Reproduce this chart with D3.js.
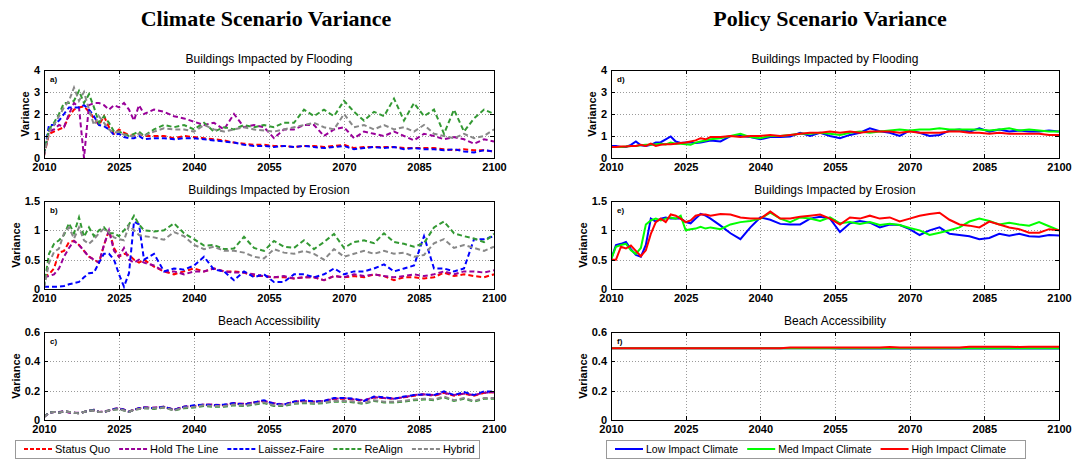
<!DOCTYPE html>
<html>
<head>
<meta charset="utf-8">
<script src="https://cdn.jsdelivr.net/npm/d3@7"></script>
<style>
  body { margin: 0; background: #fff; }
  svg { display: block; }
</style>
</head>
<body>
<div id="chart-area"></div>
<script>
// DATA (annual to 2030, every second year after)

const years = [2010,2011,2012,2013,2014,2015,2016,2017,2018,2019,2020,2021,2022,2023,2024,2025,2026,2027,2028,2029,2030,
  2032,2034,2036,2038,2040,2042,2044,2046,2048,2050,2052,2054,2056,2058,2060,2062,2064,2066,2068,2070,2072,2074,2076,2078,2080,2082,2084,2086,2088,2090,2092,2094,2096,2098,2100]

const xTicks = [2010,2025,2040,2055,2070,2085,2100]
const yTicksFlood = [0,1,2,3,4]
const yTicksErosion = [0,0.5,1,1.5]
const yTicksBeach = [0,0.2,0.4,0.6]

const climateNames = ["Status Quo","Hold The Line","Laissez-Faire","ReAlign","Hybrid"]
const policyNames = ["Low Impact Climate","Med Impact Climate","High Impact Climate"]
const panelTitles = ["Buildings Impacted by Flooding","Buildings Impacted by Erosion","Beach Accessibility"]
const columnTitles = ["Climate Scenario Variance","Policy Scenario Variance"]

// a) flooding, climate scenarios
const floodStatusQuo = [0.1,1.1,1.2,1.3,1.4,1.9,2.2,2.3,2.35,2.1,1.8,1.5,1.9,1.4,1.1,1.3,1.15,1.05,1.0,1.1,1.0,
  1.0,1.0,0.9,1.0,0.95,0.9,0.85,0.8,0.7,0.65,0.6,0.6,0.55,0.55,0.5,0.55,0.55,0.5,0.55,0.6,0.45,0.5,0.5,0.5,0.5,0.45,0.45,0.45,0.45,0.4,0.35,0.4,0.35,0.35,0.3]
const floodHoldLine = [0.2,1.2,1.3,1.5,1.4,2.0,2.5,2.3,0.0,2.4,2.5,2.5,2.4,2.2,2.4,2.3,2.5,2.2,1.7,2.4,2.0,
  2.2,2.1,1.9,1.8,1.65,1.5,1.6,1.3,2.0,1.4,1.5,1.4,0.9,1.3,1.3,1.5,1.5,1.0,1.3,1.4,0.9,1.2,1.1,1.0,1.2,1.0,0.8,1.1,1.0,0.85,0.95,0.85,0.65,0.85,0.75]
const floodLaissez = [0.15,1.5,1.5,1.7,2.0,2.3,2.3,2.3,2.4,2.2,1.9,1.5,1.45,1.3,1.05,1.1,0.95,0.9,0.9,1.0,0.85,
  0.9,0.9,0.85,0.9,0.9,0.85,0.8,0.75,0.7,0.6,0.55,0.55,0.5,0.55,0.5,0.55,0.5,0.45,0.5,0.55,0.4,0.45,0.5,0.45,0.5,0.4,0.45,0.4,0.4,0.35,0.4,0.3,0.25,0.35,0.3]
const floodReAlign = [0.2,1.3,1.6,2.0,2.5,2.5,2.6,3.05,2.5,2.9,2.3,1.6,1.9,1.6,1.2,1.2,1.1,1.0,1.1,1.2,1.0,
  1.3,1.5,1.4,1.5,1.3,1.6,1.2,1.4,1.3,1.5,1.4,1.5,1.4,1.6,1.6,2.2,1.9,2.2,1.9,2.6,2.1,1.7,2.1,1.9,2.7,1.7,2.5,1.9,2.2,1.1,2.2,1.2,1.8,2.2,2.0]
const floodHybrid = [0.1,1.2,1.5,1.9,2.3,2.6,3.2,2.6,3.0,2.2,1.5,1.9,1.6,1.3,1.15,1.2,1.05,1.0,1.0,1.1,1.0,
  1.2,1.35,1.3,1.3,1.2,1.5,1.3,1.2,1.3,1.4,1.3,1.25,1.2,1.3,1.4,1.5,1.6,1.4,1.3,2.0,1.4,1.5,1.3,1.5,1.3,1.4,1.2,1.5,1.1,1.0,0.9,1.1,0.9,1.0,1.3]

// b) erosion, climate scenarios
const erosionStatusQuo = [0.2,0.25,0.35,0.62,0.65,0.8,0.82,0.75,0.65,0.55,0.5,0.45,0.75,1.0,0.7,0.55,0.6,0.58,0.5,0.45,0.5,
  0.38,0.3,0.25,0.3,0.35,0.3,0.35,0.3,0.3,0.28,0.22,0.22,0.2,0.2,0.18,0.2,0.2,0.15,0.22,0.2,0.22,0.2,0.25,0.22,0.15,0.2,0.2,0.18,0.2,0.28,0.22,0.25,0.22,0.2,0.25]
const erosionHoldLine = [0.2,0.22,0.25,0.35,0.55,0.7,0.82,0.75,0.65,0.55,0.5,0.45,0.75,1.0,0.65,0.55,0.7,0.5,0.45,0.5,0.45,
  0.4,0.3,0.3,0.25,0.3,0.3,0.35,0.3,0.28,0.28,0.25,0.22,0.2,0.22,0.18,0.2,0.2,0.15,0.22,0.2,0.25,0.22,0.25,0.22,0.2,0.22,0.25,0.22,0.25,0.3,0.25,0.3,0.3,0.28,0.32]
const erosionLaissez = [0.04,0.04,0.04,0.04,0.05,0.08,0.1,0.12,0.2,0.27,0.28,0.45,0.6,0.6,0.5,0.25,0.04,0.27,1.15,1.1,0.5,
  0.6,0.3,0.35,0.33,0.4,0.55,0.33,0.3,0.15,0.3,0.2,0.25,0.12,0.12,0.25,0.25,0.2,0.25,0.35,0.25,0.3,0.3,0.35,0.42,0.3,0.35,0.4,0.9,0.35,0.35,0.3,0.35,0.85,0.85,0.9]
const erosionReAlign = [0.04,0.6,0.77,0.83,0.92,1.12,0.95,1.22,0.89,1.05,0.9,1.0,1.05,0.95,0.95,0.9,1.0,1.1,1.25,1.1,1.0,
  0.98,1.0,1.12,0.95,0.85,0.74,0.75,0.68,0.69,0.89,0.7,0.65,0.82,0.72,0.7,0.83,0.68,0.8,0.94,0.7,0.8,0.83,0.78,0.95,0.8,0.77,0.72,0.78,1.05,1.15,0.95,0.9,0.86,0.8,0.94]
const erosionHybrid = [0.02,0.44,0.63,0.69,0.95,1.05,0.86,1.05,0.83,0.77,0.85,0.95,1.03,0.97,0.88,0.85,0.83,1.08,1.0,0.92,0.9,
  0.88,0.84,0.97,0.9,0.75,0.68,0.72,0.65,0.65,0.62,0.55,0.52,0.68,0.62,0.6,0.65,0.6,0.5,0.68,0.55,0.6,0.65,0.6,0.65,0.6,0.62,0.55,0.58,0.78,0.85,0.7,0.75,0.7,0.65,0.72]

// c) beach accessibility, climate scenarios
const beachStatusQuo = [0.02,0.05,0.055,0.05,0.06,0.055,0.05,0.045,0.055,0.065,0.07,0.055,0.055,0.065,0.075,0.08,0.07,0.055,0.07,0.08,0.085,
  0.08,0.09,0.07,0.09,0.095,0.105,0.1,0.1,0.115,0.105,0.12,0.13,0.11,0.105,0.125,0.13,0.125,0.13,0.145,0.145,0.14,0.13,0.155,0.15,0.145,0.155,0.165,0.175,0.165,0.185,0.165,0.18,0.165,0.185,0.19]
const beachHoldLine = [0.02,0.05,0.055,0.055,0.06,0.05,0.05,0.05,0.055,0.065,0.065,0.055,0.06,0.065,0.075,0.08,0.07,0.06,0.07,0.08,0.085,
  0.085,0.09,0.07,0.09,0.095,0.105,0.105,0.1,0.115,0.11,0.12,0.13,0.115,0.105,0.125,0.13,0.125,0.13,0.145,0.15,0.14,0.135,0.155,0.15,0.145,0.155,0.17,0.175,0.17,0.185,0.17,0.18,0.17,0.185,0.19]
const beachLaissez = [0.02,0.05,0.055,0.05,0.06,0.055,0.05,0.045,0.055,0.065,0.07,0.055,0.055,0.065,0.075,0.08,0.07,0.055,0.07,0.08,0.085,
  0.08,0.09,0.07,0.09,0.1,0.105,0.1,0.105,0.115,0.105,0.12,0.135,0.11,0.105,0.125,0.135,0.125,0.13,0.15,0.15,0.145,0.13,0.16,0.155,0.145,0.16,0.17,0.175,0.17,0.195,0.17,0.19,0.17,0.195,0.195]
const beachReAlign = [0.02,0.05,0.055,0.05,0.06,0.055,0.05,0.045,0.055,0.065,0.065,0.055,0.055,0.065,0.07,0.075,0.065,0.055,0.07,0.075,0.08,
  0.075,0.085,0.065,0.08,0.085,0.095,0.09,0.09,0.1,0.095,0.105,0.115,0.095,0.095,0.11,0.115,0.11,0.115,0.125,0.125,0.12,0.11,0.13,0.12,0.12,0.125,0.135,0.14,0.135,0.155,0.13,0.145,0.125,0.145,0.145]
const beachHybrid = [0.02,0.05,0.055,0.05,0.06,0.055,0.05,0.045,0.055,0.065,0.065,0.055,0.055,0.065,0.07,0.075,0.065,0.055,0.07,0.075,0.08,
  0.08,0.085,0.065,0.085,0.09,0.1,0.095,0.095,0.105,0.1,0.11,0.12,0.1,0.1,0.115,0.12,0.115,0.12,0.13,0.13,0.125,0.115,0.135,0.125,0.125,0.13,0.14,0.145,0.14,0.16,0.135,0.15,0.13,0.15,0.15]

// d) flooding, policy scenarios
const floodLow = [0.55,0.55,0.5,0.5,0.6,0.75,0.58,0.55,0.6,0.7,0.72,0.85,0.98,0.75,0.68,0.7,0.7,0.68,0.7,0.75,0.8,
  0.75,1.0,1.0,0.95,0.85,0.95,0.95,0.98,1.15,1.0,1.15,1.0,0.9,1.05,1.15,1.35,1.22,1.15,1.0,1.25,1.15,1.0,1.05,1.25,1.3,1.2,1.35,1.2,1.3,1.2,1.25,1.2,1.2,1.25,1.2]
const floodMed = [0.5,0.5,0.5,0.52,0.55,0.55,0.58,0.6,0.6,0.62,0.65,0.62,0.7,0.65,0.65,0.62,0.6,0.7,0.75,0.8,0.85,
  0.9,1.0,1.1,0.95,0.9,1.0,1.0,1.05,1.1,1.1,1.15,1.1,1.05,1.15,1.2,1.15,1.2,1.25,1.3,1.25,1.3,1.3,1.35,1.3,1.3,1.3,1.3,1.25,1.3,1.35,1.25,1.3,1.25,1.2,1.2]
const floodHigh = [0.5,0.5,0.52,0.52,0.55,0.55,0.6,0.55,0.65,0.55,0.6,0.62,0.62,0.65,0.68,0.7,0.75,0.8,0.9,0.85,0.95,
  0.95,1.0,0.95,1.0,1.0,1.05,1.0,1.05,1.1,1.15,1.15,1.2,1.15,1.2,1.15,1.2,1.2,1.2,1.15,1.2,1.15,1.15,1.15,1.2,1.2,1.15,1.15,1.1,1.15,1.1,1.1,1.1,1.1,1.05,1.05]

// e) erosion, policy scenarios
const erosionLow = [0.5,0.75,0.77,0.8,0.68,0.58,0.55,0.75,1.2,1.15,1.2,1.22,1.2,1.2,1.2,1.14,1.12,1.2,1.28,1.25,1.2,
  1.08,0.95,0.85,1.05,1.22,1.18,1.11,1.1,1.1,1.2,1.23,1.2,0.97,1.12,1.16,1.13,1.05,1.1,1.09,1.02,0.92,1.0,1.05,0.94,0.92,0.9,0.85,0.87,0.94,0.91,0.94,0.9,0.89,0.92,0.91]
const erosionMed = [0.5,0.72,0.75,0.77,0.66,0.6,0.7,1.1,1.17,1.2,1.17,1.2,1.22,1.2,1.25,1.0,1.02,1.03,1.06,1.03,1.05,
  1.02,1.1,1.14,1.16,1.2,1.3,1.2,1.14,1.22,1.2,1.16,1.22,1.12,1.14,1.11,1.14,1.09,1.11,1.09,1.04,1.0,0.92,0.96,1.0,1.05,1.15,1.2,1.16,1.1,1.13,1.1,1.08,1.14,1.07,1.0]
const erosionHigh = [0.5,0.5,0.72,0.69,0.74,0.65,0.56,0.66,0.94,1.14,1.2,1.14,1.27,1.25,1.2,1.14,1.17,1.25,1.27,1.27,1.25,
  1.28,1.27,1.22,1.2,1.2,1.32,1.2,1.2,1.23,1.25,1.27,1.2,1.1,1.22,1.2,1.25,1.2,1.22,1.15,1.2,1.25,1.28,1.3,1.18,1.1,1.08,1.05,1.15,1.1,1.05,1.02,0.96,0.96,1.02,1.0]

// f) beach accessibility, policy scenarios
const beachLow = [0.49,0.49,0.49,0.49,0.49,0.49,0.49,0.49,0.49,0.49,0.49,0.49,0.49,0.49,0.49,0.49,0.49,0.49,0.49,0.49,0.49,
  0.49,0.49,0.49,0.49,0.49,0.49,0.49,0.49,0.49,0.49,0.49,0.49,0.488,0.488,0.488,0.488,0.488,0.488,0.488,0.488,0.488,0.488,0.488,0.488,0.488,0.488,0.488,0.488,0.488,0.488,0.488,0.488,0.488,0.488,0.488]
const beachMed = [0.49,0.49,0.49,0.49,0.49,0.49,0.49,0.49,0.49,0.49,0.49,0.49,0.49,0.49,0.49,0.49,0.49,0.49,0.49,0.49,0.49,
  0.49,0.49,0.49,0.49,0.49,0.49,0.49,0.49,0.49,0.49,0.49,0.49,0.49,0.49,0.49,0.49,0.49,0.49,0.49,0.49,0.49,0.49,0.49,0.49,0.49,0.49,0.49,0.49,0.49,0.49,0.49,0.49,0.49,0.49,0.49]
const beachHigh = [0.49,0.49,0.49,0.49,0.49,0.49,0.49,0.49,0.49,0.49,0.49,0.49,0.49,0.49,0.49,0.49,0.49,0.49,0.49,0.49,0.49,
  0.49,0.49,0.49,0.49,0.49,0.49,0.49,0.495,0.495,0.495,0.495,0.495,0.495,0.495,0.495,0.495,0.495,0.498,0.495,0.495,0.495,0.495,0.495,0.495,0.495,0.5,0.5,0.5,0.5,0.5,0.498,0.5,0.5,0.5,0.5]

// STYLES

const climateColors = ["#ff0000","#990099","#0000ff","#339933","#888888"]
const policyColors = ["#0000ff","#00ff00","#ff0000"]
const sansFont = "Liberation Sans, Arial, sans-serif"

const svg = d3.select("#chart-area").append("svg")
  .attr("width", 1077)
  .attr("height", 459)

// column titles
svg.selectAll(".col-title")
  .data(columnTitles)
  .enter().append("text")
    .attr("class", "col-title")
    .attr("x", (d, i) => i === 0 ? 266 : 830)
    .attr("y", 26)
    .attr("text-anchor", "middle")
    .attr("font-family", "Liberation Serif, Times New Roman, serif")
    .attr("font-weight", "bold")
    .attr("font-size", "22px")
    .text(d => d)

let clipId = 0

function drawPanel(p) {
  const w = p.x1 - p.x0
  const h = p.y1 - p.y0
  const g = svg.append("g").attr("transform", "translate(" + p.x0 + "," + p.y0 + ")")

  const x = d3.scaleLinear().domain([2010, 2100]).range([0, w])
  const y = d3.scaleLinear().domain([0, p.yMax]).range([h, 0])

  // dotted grid
  const gx = g.append("g").attr("transform", "translate(0," + h + ")")
    .call(d3.axisBottom(x).tickValues(xTicks).tickSize(-h).tickFormat(""))
  const gy = g.append("g")
    .call(d3.axisLeft(y).tickValues(p.yTicks).tickSize(-w).tickFormat(""))
  ;[gx, gy].forEach(a => {
    a.select(".domain").remove()
    a.selectAll("line")
      .attr("stroke", "#9a9a9a")
      .attr("stroke-dasharray", "1,2")
      .attr("shape-rendering", "crispEdges")
  })

  // clipped series
  clipId++
  g.append("clipPath").attr("id", "clip" + clipId)
    .append("rect").attr("width", w).attr("height", h)

  const line = d3.line()
    .x((d, i) => x(years[i]))
    .y(d => y(d))

  g.append("g").attr("clip-path", "url(#clip" + clipId + ")")
    .selectAll("path")
    .data(p.series)
    .enter().append("path")
      .attr("d", d => line(d))
      .attr("fill", "none")
      .attr("stroke", (d, i) => p.colors[i])
      .attr("stroke-width", 2)
      .attr("stroke-dasharray", p.dashed ? "5,3" : null)

  // axes: labelled bottom/left, inward ticks on all sides
  const xAxis = g.append("g").attr("transform", "translate(0," + h + ")")
    .call(d3.axisBottom(x).tickValues(xTicks).tickSizeInner(-4).tickSizeOuter(0).tickPadding(5).tickFormat(d3.format("d")))
  const yAxis = g.append("g")
    .call(d3.axisLeft(y).tickValues(p.yTicks).tickSizeInner(-4).tickSizeOuter(0).tickPadding(4).tickFormat(d => String(d)))
  const topAxis = g.append("g")
    .call(d3.axisTop(x).tickValues(xTicks).tickSizeInner(-4).tickSizeOuter(0).tickFormat(""))
  const rightAxis = g.append("g").attr("transform", "translate(" + w + ",0)")
    .call(d3.axisRight(y).tickValues(p.yTicks).tickSizeInner(-4).tickSizeOuter(0).tickFormat(""))
  ;[xAxis, yAxis, topAxis, rightAxis].forEach(a => {
    a.select(".domain").remove()
    a.selectAll("line").attr("stroke", "#000").attr("shape-rendering", "crispEdges")
    a.selectAll("text")
      .attr("font-family", sansFont)
      .attr("font-weight", "bold")
      .attr("font-size", "11px")
      .attr("fill", "#000")
  })

  // box
  g.append("rect")
    .attr("width", w).attr("height", h)
    .attr("fill", "none").attr("stroke", "#000").attr("stroke-width", 1)
    .attr("shape-rendering", "crispEdges")

  // panel title and letter
  g.append("text")
    .attr("x", w / 2)
    .attr("y", -7)
    .attr("text-anchor", "middle")
    .attr("font-family", sansFont)
    .attr("font-size", "12px")
    .text(p.title)

  g.append("text")
    .attr("x", 6)
    .attr("y", 12)
    .attr("font-family", sansFont)
    .attr("font-weight", "bold")
    .attr("font-size", "8px")
    .text(p.letter)

  // y label sits just left of the widest tick label (as MATLAB places it)
  let maxW = 0
  yAxis.selectAll("text").each(function() { maxW = Math.max(maxW, this.getComputedTextLength()) })
  g.append("text")
    .attr("transform", "rotate(-90)")
    .attr("x", -h / 2)
    .attr("y", -(4 + maxW + 5))
    .attr("text-anchor", "middle")
    .attr("font-family", sansFont)
    .attr("font-weight", "bold")
    .attr("font-size", "11px")
    .text("Variance")
}

const rows = [
  { y0: 70, y1: 158, yMax: 4, yTicks: yTicksFlood },
  { y0: 201, y1: 289, yMax: 1.5, yTicks: yTicksErosion },
  { y0: 332, y1: 420, yMax: 0.6, yTicks: yTicksBeach }
]
const climateSeries = [
  [floodStatusQuo, floodHoldLine, floodLaissez, floodReAlign, floodHybrid],
  [erosionStatusQuo, erosionHoldLine, erosionLaissez, erosionReAlign, erosionHybrid],
  [beachStatusQuo, beachHoldLine, beachLaissez, beachReAlign, beachHybrid]
]
const policySeries = [
  [floodLow, floodMed, floodHigh],
  [erosionLow, erosionMed, erosionHigh],
  [beachLow, beachMed, beachHigh]
]

rows.forEach((r, i) => {
  drawPanel({ x0: 44, x1: 494, y0: r.y0, y1: r.y1, yMax: r.yMax, yTicks: r.yTicks,
    title: panelTitles[i], letter: "abc"[i] + ")", series: climateSeries[i], colors: climateColors, dashed: true })
  drawPanel({ x0: 611, x1: 1059, y0: r.y0, y1: r.y1, yMax: r.yMax, yTicks: r.yTicks,
    title: panelTitles[i], letter: "def"[i] + ")", series: policySeries[i], colors: policyColors, dashed: false })
})

// LEGENDS
function drawLegend(bx, by, bw, bh, names, colors, dashed, fontSize) {
  const g = svg.append("g").attr("transform", "translate(" + bx + "," + by + ")")
  g.append("rect")
    .attr("width", bw).attr("height", bh)
    .attr("fill", "#fff").attr("stroke", "#999").attr("stroke-width", 1)
    .attr("shape-rendering", "crispEdges")
  let cx = 9
  names.forEach((n, i) => {
    g.append("line")
      .attr("x1", cx).attr("x2", cx + 28)
      .attr("y1", bh / 2).attr("y2", bh / 2)
      .attr("stroke", colors[i]).attr("stroke-width", 2)
      .attr("stroke-dasharray", dashed ? "4,2" : null)
    const t = g.append("text")
      .attr("x", cx + 31)
      .attr("y", bh / 2 + 4)
      .attr("font-family", sansFont)
      .attr("font-size", fontSize)
      .text(n)
    cx += 31 + t.node().getComputedTextLength() + 9
  })
}

drawLegend(15, 440, 464, 18, climateNames, climateColors, true, "11px")
drawLegend(606, 440, 419, 18, policyNames, policyColors, false, "10.5px")
</script>
</body>
</html>
